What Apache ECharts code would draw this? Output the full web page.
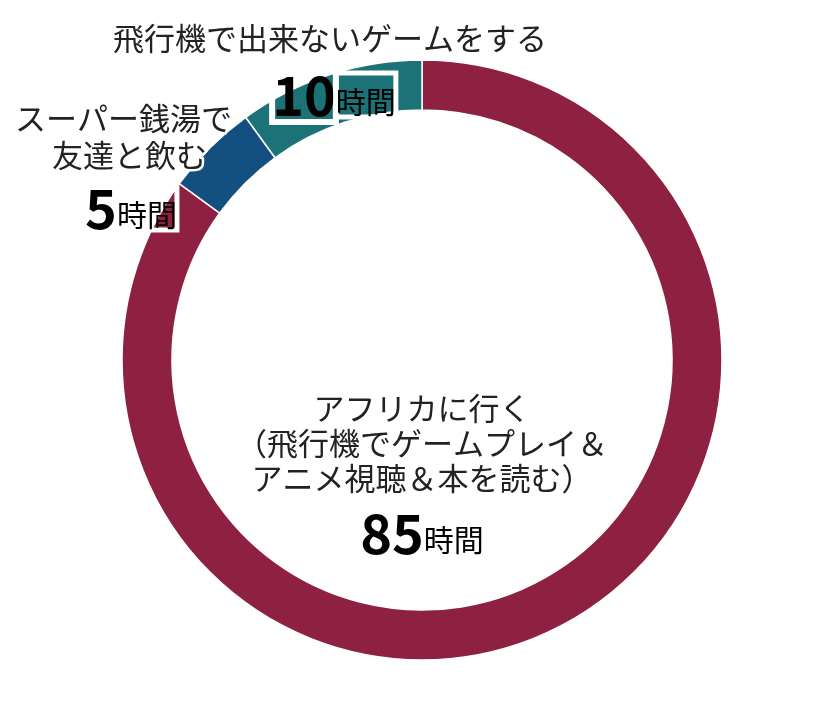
<!DOCTYPE html>
<html><head><meta charset="utf-8">
<script src="https://cdn.jsdelivr.net/npm/echarts@6/dist/echarts.min.js"></script>
<style>html,body{margin:0;background:#fff}#c{width:840px;height:720px}</style>
</head><body><div id="c"></div>
<script>
const categories = ['アフリカに行く', 'スーパー銭湯で友達と飲む', '飛行機で出来ないゲームをする'];
const hours = [85, 5, 10];
const colors = ['#8e2141', '#14507f', '#1b7378'];
const F = '"Noto Sans CJK JP", sans-serif';
const chart = echarts.init(document.getElementById('c'));
const rich = {
  n: {fontSize: 54, fontWeight: 'bold', fontFamily: F, color: '#2b2b2b', textBorderColor: '#fff', textBorderWidth: 6},
  u: {fontSize: 30, fontFamily: F, color: '#2b2b2b', textBorderColor: '#fff', textBorderWidth: 5, padding: [14, 0, 0, 0]}
};
function t(x, y, text, align, size) {
  return {type: 'text', z: 100, x, y, style: {text, fontFamily: F, fontSize: size || 31, fill: '#222', align: align || 'center', verticalAlign: 'middle', stroke: '#fff', lineWidth: 5}};
}
function hrs(x, y, v, align) {
  return {type: 'text', z: 100, x, y, style: {text: '{n|' + v + '}{u|時間}', rich, align: align || 'center', verticalAlign: 'middle'}};
}
chart.setOption({
  animation: false,
  series: [{
    type: 'pie', center: [422, 360], radius: [250, 300], startAngle: 90, clockwise: true,
    label: {show: false}, labelLine: {show: false},
    itemStyle: {borderColor: '#fff', borderWidth: 1.5},
    data: categories.map((c, i) => ({name: c, value: hours[i], itemStyle: {color: colors[i]}}))
  }],
  graphic: [
    t(330, 38, '飛行機で出来ないゲームをする'),
    hrs(334, 95, hours[2]),
    t(232, 118, 'スーパー銭湯で', 'right'),
    t(207, 155, '友達と飲む', 'right'),
    hrs(131, 208, hours[1]),
    t(422, 408, 'アフリカに行く'),
    t(422, 443, '（飛行機でゲームプレイ＆'),
    t(422, 478, 'アニメ視聴＆本を読む）'),
    hrs(422, 533, hours[0])
  ]
});
</script></body></html>
